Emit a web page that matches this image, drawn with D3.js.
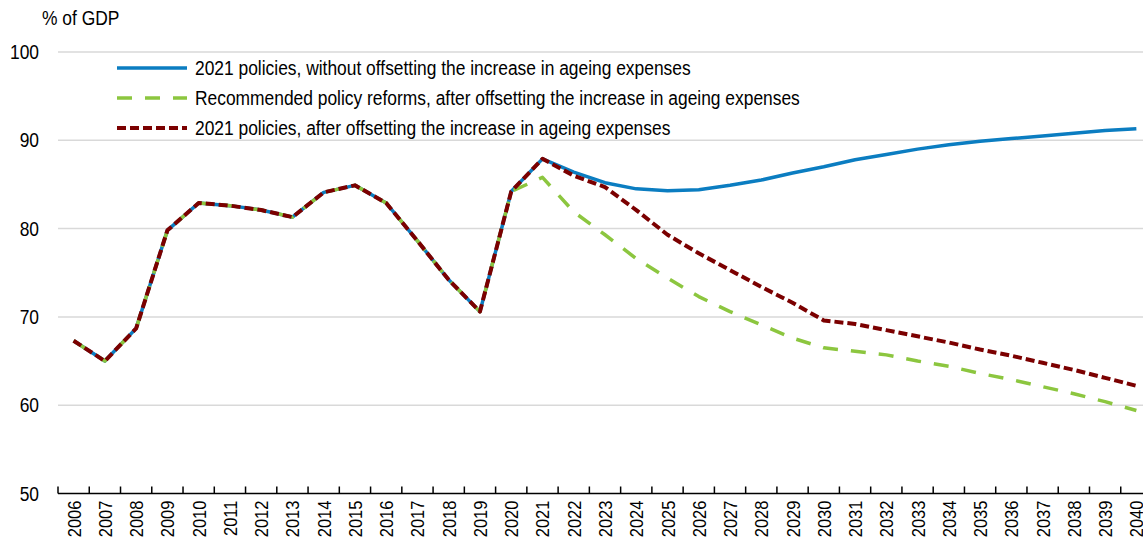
<!DOCTYPE html>
<html>
<head>
<meta charset="utf-8">
<script src="https://cdn.jsdelivr.net/npm/d3@7"></script>
<style>
	body { margin: 0; background: #fff; }
	svg text { font-family: 'Liberation Sans', Arial, sans-serif; fill: #000; }
</style>
</head>
<body>
<div id="canvas"></div>
<script>
// Data
const years = d3.range(2006, 2041).map(String)
const yTicks = [50, 60, 70, 80, 90, 100]

const history = [67.3, 65.0, 68.7, 79.8, 82.9, 82.6, 82.1, 81.3, 84.1, 84.9, 82.9, 78.6, 74.2, 70.6, 84.2]

const policies2021 = history.concat([87.9, 86.4, 85.2, 84.5, 84.3, 84.4, 84.9, 85.5, 86.3, 87.0,
	87.8, 88.4, 89.0, 89.5, 89.9, 90.2, 90.5, 90.8, 91.1, 91.3])
const recommended = history.concat([85.8, 81.9, 79.3, 76.6, 74.4, 72.3, 70.6, 69.1, 67.6, 66.5,
	66.1, 65.7, 65.0, 64.4, 63.6, 62.9, 62.1, 61.3, 60.4, 59.4])
const policiesOffset = history.concat([87.9, 86.0, 84.7, 82.1, 79.3, 77.2, 75.3, 73.4, 71.6, 69.6,
	69.2, 68.5, 67.8, 67.1, 66.3, 65.6, 64.8, 64.0, 63.1, 62.2])

const seriesNames = [
	'2021 policies, without offsetting the increase in ageing expenses',
	'Recommended policy reforms, after offsetting the increase in ageing expenses',
	'2021 policies, after offsetting the increase in ageing expenses',
]

// Styles
const colors = {
	blue: '#0b7dc1',
	green: '#8cc63f',
	red: '#7b0000',
	grid: '#d9d9d9',
}
const narrow = 'scale(0.87,1)' // fake Arial Narrow
const series = [
	{name: seriesNames[0], values: policies2021, color: colors.blue, dash: null, width: 3.5},
	{name: seriesNames[1], values: recommended, color: colors.green, dash: '15,13', width: 3.5},
	{name: seriesNames[2], values: policiesOffset, color: colors.red, dash: '9,4', width: 4},
]

const width = 1143, height = 538
const svg = d3.select('#canvas').append('svg').attr('width', width).attr('height', height)

const x = d3.scaleBand().domain(years).range([58, 1152])
const y = d3.scaleLinear().domain([50, 100]).range([493.5, 52])

// Gridlines
svg.append('g')
	.selectAll('line')
	.data(yTicks.filter(d => d > 50)).enter()
	.append('line')
	.attr('x1', 58).attr('x2', width)
	.attr('y1', d => y(d)).attr('y2', d => y(d))
	.attr('stroke', colors.grid)
	.attr('stroke-width', 1.5)

// Y labels
svg.append('g')
	.selectAll('text')
	.data(yTicks).enter()
	.append('text')
	.attr('transform', d => `translate(39,${y(d)}) ${narrow}`)
	.attr('dy', '0.35em')
	.attr('text-anchor', 'end')
	.attr('font-size', 20)
	.text(d => d)

svg.append('text')
	.attr('transform', `translate(42,25) ${narrow}`)
	.attr('font-size', 20)
	.text('% of GDP')

// X axis
const xAxis = svg.append('g').attr('transform', `translate(0,${y(50)})`)
xAxis.append('line')
	.attr('x1', 58).attr('x2', 1152)
	.attr('stroke', '#000').attr('stroke-width', 1.5)
xAxis.selectAll('.tick')
	.data(years).enter()
	.append('line')
	.attr('x1', d => x(d)).attr('x2', d => x(d))
	.attr('y1', 0).attr('y2', -7)
	.attr('stroke', '#000').attr('stroke-width', 1.5)
xAxis.selectAll('.label')
	.data(years).enter()
	.append('text')
	.attr('transform', d => `translate(${x(d) + x.bandwidth() / 2 + 7},7) rotate(-90) ${narrow}`)
	.attr('text-anchor', 'end')
	.attr('font-size', 19)
	.text(d => d)

// Lines
const line = d3.line()
	.x((d, i) => x(years[i]) + x.bandwidth() / 2)
	.y(d => y(d))

svg.append('g')
	.selectAll('path')
	.data(series).enter()
	.append('path')
	.attr('d', d => line(d.values))
	.attr('fill', 'none')
	.attr('stroke', d => d.color)
	.attr('stroke-width', d => d.width)
	.attr('stroke-dasharray', d => d.dash)
	.attr('stroke-linejoin', 'round')

// Legend
const legend = svg.append('g')
	.selectAll('g')
	.data(series).enter()
	.append('g')
	.attr('transform', (d, i) => `translate(117,${68 + i * 30})`)
legend.append('line')
	.attr('x1', 0).attr('x2', 70)
	.attr('stroke', d => d.color)
	.attr('stroke-width', d => d.width)
	.attr('stroke-dasharray', d => d.dash)
legend.append('text')
	.attr('transform', `translate(78,0) ${narrow}`)
	.attr('dy', '0.35em')
	.attr('font-size', 20)
	.text(d => d.name)
</script>
</body>
</html>
